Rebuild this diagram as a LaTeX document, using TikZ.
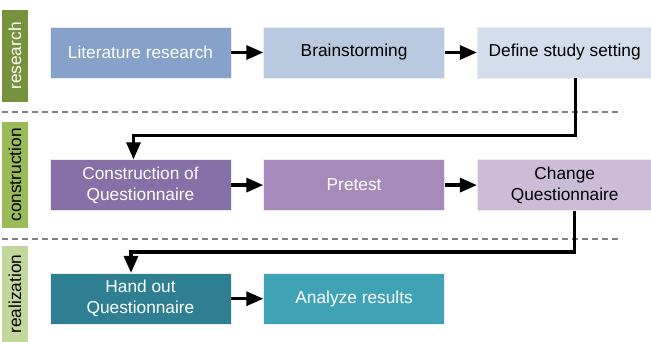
\documentclass[tikz,border=0pt]{standalone}
\usepackage{fontspec}
\setmainfont{Liberation Sans}
\usepackage{tikz}
\usetikzlibrary{arrows.meta,positioning}
\definecolor{litblue}{HTML}{86A2CA}
\definecolor{brainblue}{HTML}{B8C9E0}
\definecolor{defblue}{HTML}{D3DDEC}
\definecolor{conspurple}{HTML}{8670A8}
\definecolor{prepurple}{HTML}{A68BBA}
\definecolor{chgpurple}{HTML}{CBBDD8}
\definecolor{handteal}{HTML}{2E7F91}
\definecolor{anateal}{HTML}{3FA3B5}
\definecolor{resgreen}{HTML}{76923C}
\definecolor{consgreen}{HTML}{9BBB59}
\definecolor{realgreen}{HTML}{C3D69B}

\begin{document}
\begin{tikzpicture}[x=1pt, y=1pt, node distance=32pt,
  box/.style={draw=white!85!gray, line width=0.6pt, align=center, minimum width=181pt, minimum height=51pt, inner sep=0pt, font=\fontsize{17.3}{21}\selectfont},
  phase/.style={rotate=90, minimum height=26pt, inner sep=0pt, font=\fontsize{17.3}{21}\selectfont},
  flow/.style={-{Triangle[length=17pt,width=14pt]}, line width=3.2pt},
  sep/.style={draw=gray, line width=1.3pt, dash pattern=on 6pt off 4pt}]
\useasboundingbox (0,0) rectangle (651,-342);
% phases
\node[phase, fill=resgreen, text=white, minimum width=92pt] (research) at (15,-56) {research};
\node[phase, fill=consgreen, minimum width=106pt] (construction) at (15,-175) {construction};
\node[phase, fill=realgreen, minimum width=96pt] (realization) at (15,-294) {realization};
\draw[sep] (2,-112) -- (622,-112);
\draw[sep] (2,-239) -- (622,-239);
% steps
\node[box, fill=litblue, text=white] (lit) at (140.5,-52.5) {Literature research};
\node[box, fill=brainblue, right=of lit] (brain) {Brainstorming};
\node[box, fill=defblue, right=of brain, minimum width=175pt] (def) {Define study setting};
\node[box, fill=conspurple, text=white, below=81pt of lit] (cons) {Construction of\\Questionnaire};
\node[box, fill=prepurple, text=white, right=of cons] (pre) {Pretest};
\node[box, fill=chgpurple, right=of pre, minimum width=175pt] (chg) {Change\\Questionnaire};
\node[box, fill=handteal, text=white, below=62pt of cons] (hand) {Hand out\\Questionnaire};
\node[box, fill=anateal, text=white, right=of hand] (ana) {Analyze results};
\draw[flow] (lit) -- (brain); \draw[flow] (brain) -- (def);
\draw[flow] (cons) -- (pre); \draw[flow] (pre) -- (chg);
\draw[flow] (hand) -- (ana);
\draw[flow] ([xshift=11pt]def.south) |- ([xshift=-7pt,yshift=24pt]cons.north) -- ([xshift=-7pt]cons.north);
\draw[flow] ([xshift=9.5pt]chg.south) |- ([xshift=-9.5pt,yshift=21pt]hand.north) -- ([xshift=-9.5pt]hand.north);
\end{tikzpicture}
\end{document}
